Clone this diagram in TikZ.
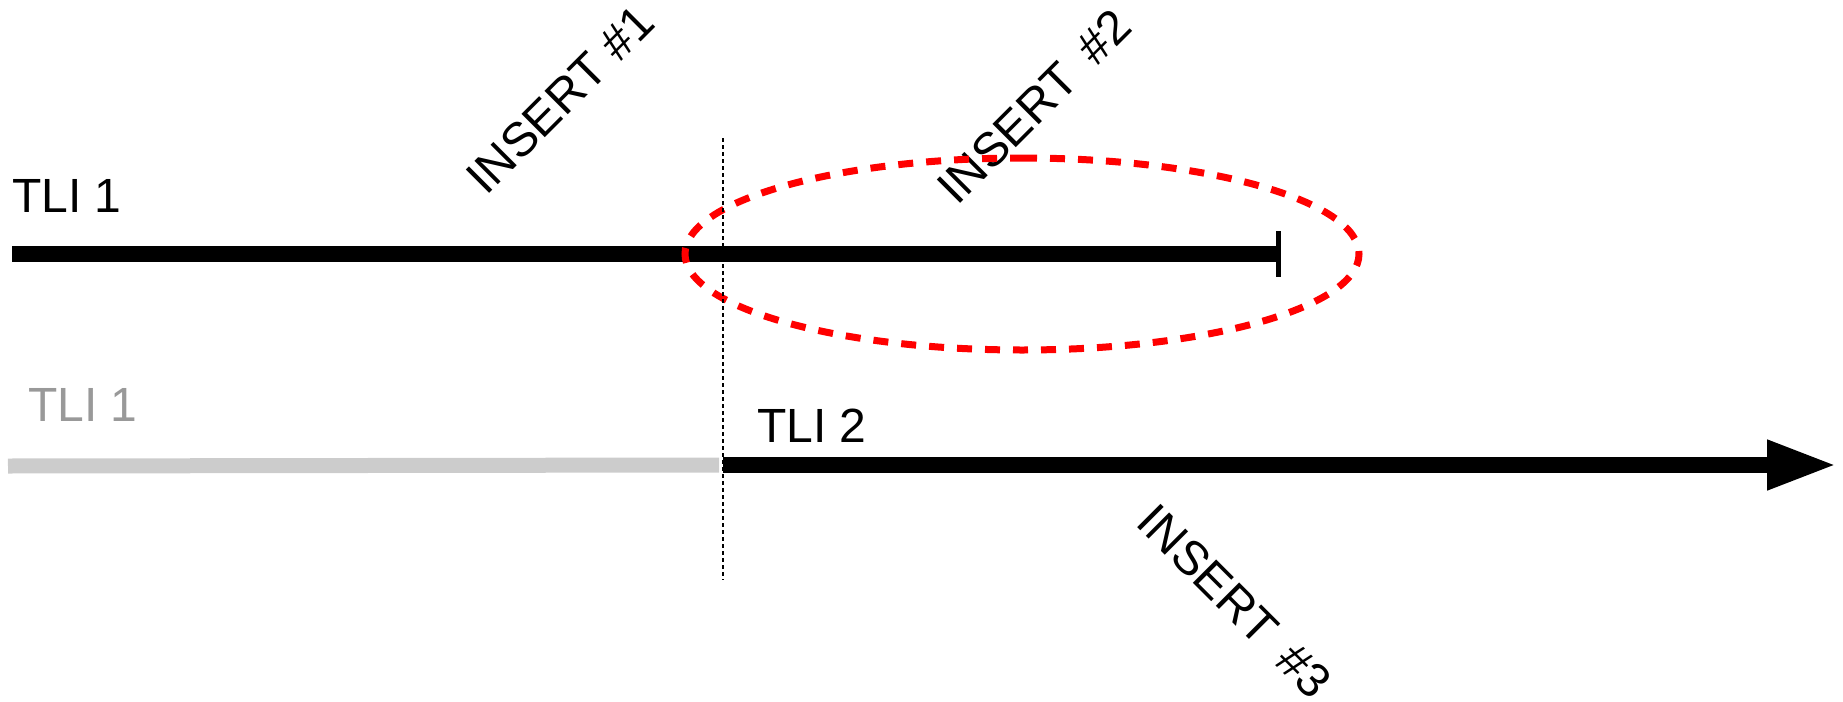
\documentclass[tikz,border=0pt]{standalone}
\usepackage{fontspec}
\setmainfont{Liberation Sans}
\usetikzlibrary{arrows.meta}
\definecolor{faded}{HTML}{CCCCCC}
\definecolor{fadedtext}{HTML}{999999}
\begin{document}
\begin{tikzpicture}[x=1pt,y=-1pt,
    lbl/.style={anchor=base west,inner sep=0pt,font=\fontsize{48}{58}\selectfont},
    tl/.style={line width=16pt},
    focus/.style={red,line width=7pt,dash pattern=on 15pt off 13pt}]
  \useasboundingbox (0,0) rectangle (1843,701);
  \draw
    (12,212) node[lbl] (t1){TLI 1}
    (28,421) node[lbl,text=fadedtext] (t1old){TLI 1}
    (757,442) node[lbl] (t2){TLI 2}
    (486,197) node[lbl,rotate=45] (ins1){INSERT \#1}
    (957,207) node[lbl,rotate=45] (ins2){INSERT\hspace{9pt} \#2}
    (1134,524) node[lbl,rotate=-45] (ins3){INSERT\hspace{9pt} \#3};
  \coordinate (a0) at (12,254);
  \coordinate (a1) at (1276,254);
  \coordinate (k0) at (1278,231);
  \coordinate (k1) at (1278,277);
  \coordinate (b0) at (8,466);
  \coordinate (b1) at (719,465);
  \coordinate (c0) at (723,465);
  \coordinate (c1) at (1837,465);
  \coordinate (s0) at (723,138);
  \coordinate (s1) at (723,580);
  \begin{scope}[tl]
    \draw (a0) -- (a1);
    \draw[faded,line width=15pt] (b0) -- (b1);
    \draw[-{Triangle[length=70pt,width=46pt]}] (c0) -- (c1);
  \end{scope}
  \draw[line width=5pt] (k0) -- (k1);
  \draw[focus] (1022,158) arc[start angle=-90,end angle=270,x radius=337,y radius=96];
  \draw[line width=2pt,dash pattern=on 4pt off 3pt] (s0) -- (s1);
\end{tikzpicture}
\end{document}
